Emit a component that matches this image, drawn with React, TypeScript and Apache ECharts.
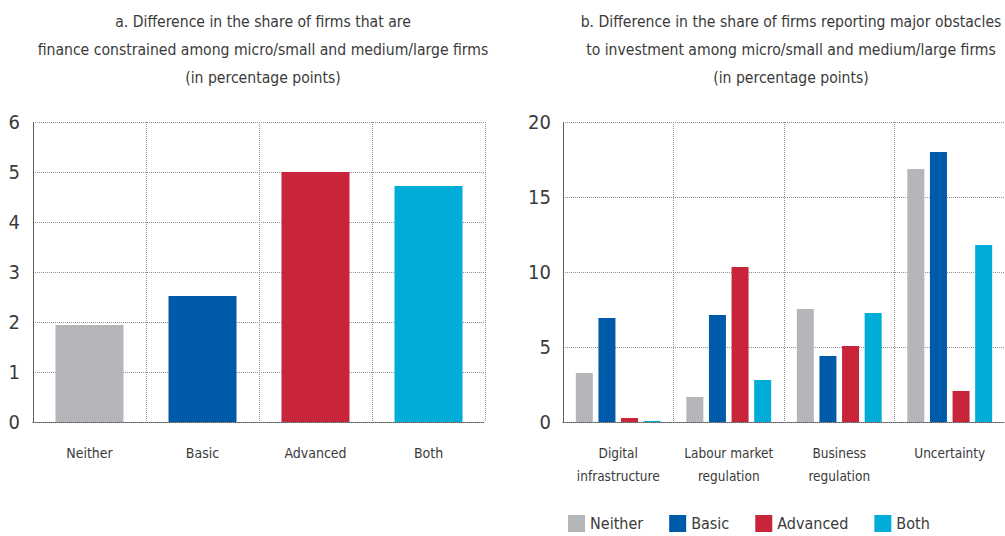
import React, { useEffect, useRef } from "react";
import * as echarts from "echarts";

const leftCategories = ["Neither", "Basic", "Advanced", "Both"];
const leftValues = [1.94, 2.52, 5.0, 4.72];
const rightCategories = ["Digital\ninfrastructure", "Labour market\nregulation", "Business\nregulation", "Uncertainty"];
const seriesNames = ["Neither", "Basic", "Advanced", "Both"];
const neitherValues = [3.27, 1.67, 7.53, 16.87];
const basicValues = [6.93, 7.13, 4.4, 18.0];
const advancedValues = [0.27, 10.33, 5.07, 2.07];
const bothValues = [0.07, 2.8, 7.27, 11.8];
const colors = ["#b5b6ba", "#005aaa", "#c8243a", "#00acd8"];
const titleA = "a. Difference in the share of firms that are\nfinance constrained among micro/small and medium/large firms\n(in percentage points)";
const titleB = "b. Difference in the share of firms reporting major obstacles\nto investment among micro/small and medium/large firms\n(in percentage points)";

const FONT = "'DejaVu Sans Condensed', 'Liberation Sans Narrow', sans-serif";
const TXT = "#3a3a3a";

export default function App() {
  const ref = useRef<HTMLDivElement>(null);
  useEffect(() => {
    document.body.style.margin = "0";
    const chart = echarts.init(ref.current!, null, { renderer: "svg" });
    const split = { show: true, lineStyle: { color: "#8f8f8f", type: [1, 1] as any, width: 1 } };
    const axisLine = { show: true, lineStyle: { color: "#555", type: [1, 1] as any, width: 1 } };
    const rightData = [neitherValues, basicValues, advancedValues, bothValues];
    const titleStyle = { fontFamily: FONT, fontSize: 15.6, fontWeight: "normal", color: TXT, lineHeight: 28 };
    chart.setOption({
      animation: false,
      textStyle: { fontFamily: FONT },
      title: [
        { text: titleA, left: 258, top: 3, textAlign: "center", textStyle: titleStyle },
        { text: titleB, left: 786, top: 3, textAlign: "center", textStyle: titleStyle },
      ],
      legend: {
        data: seriesNames,
        left: 563,
        top: 510,
        itemWidth: 17,
        itemHeight: 17,
        itemGap: 26,
        icon: "rect",
        textStyle: { fontFamily: FONT, fontSize: 16, color: TXT },
      },
      grid: [
        { left: 33, top: 122, width: 452, height: 300 },
        { left: 563, top: 122, width: 451, height: 300 },
      ],
      xAxis: [
        {
          type: "category", gridIndex: 0, data: leftCategories,
          axisLine, axisTick: { show: false }, splitLine: split,
          axisLabel: { margin: 24, fontSize: 14, color: TXT, fontFamily: FONT, interval: 0 },
        },
        {
          type: "category", gridIndex: 1, data: rightCategories,
          axisLine, axisTick: { show: false }, splitLine: split,
          axisLabel: { margin: 19, fontSize: 13.5, color: TXT, fontFamily: FONT, lineHeight: 23, interval: 0 },
        },
      ],
      yAxis: [
        {
          type: "value", gridIndex: 0, min: 0, max: 6, interval: 1,
          axisLine, axisTick: { show: false }, splitLine: split,
          axisLabel: { margin: 13, fontSize: 20, color: TXT, fontFamily: FONT },
        },
        {
          type: "value", gridIndex: 1, min: 0, max: 20, interval: 5,
          axisLine, axisTick: { show: false }, splitLine: split,
          axisLabel: { margin: 12, fontSize: 20, color: TXT, fontFamily: FONT },
        },
      ],
      series: [
        {
          type: "bar", name: "Finance constrained", xAxisIndex: 0, yAxisIndex: 0, barWidth: 68,
          data: leftValues.map((v, i) => ({ value: v, itemStyle: { color: colors[i] } })),
        },
        ...seriesNames.map((n, i) => ({
          type: "bar", name: n, xAxisIndex: 1, yAxisIndex: 1, barWidth: 17, barGap: "33%",
          itemStyle: { color: colors[i] }, data: rightData[i],
        })),
      ],
    });
    return () => chart.dispose();
  }, []);
  return <div ref={ref} style={{ width: 1005, height: 536 }} />;
}
